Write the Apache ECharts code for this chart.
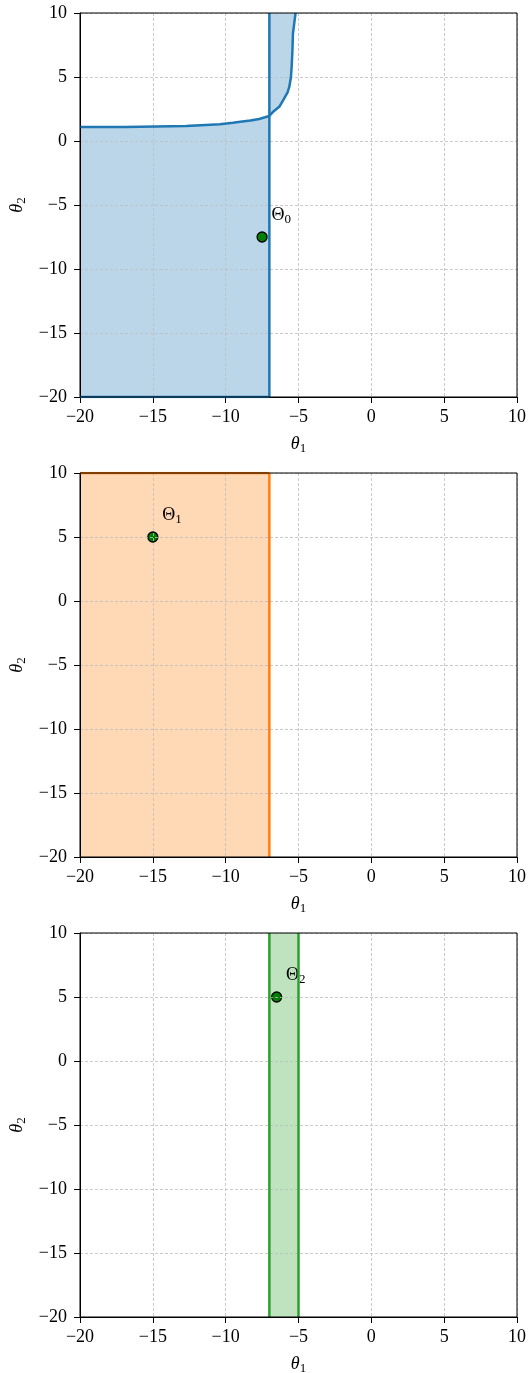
<!DOCTYPE html>
<html><head><meta charset="utf-8">
<script src="https://cdn.jsdelivr.net/npm/echarts@6/dist/echarts.min.js"></script>
<style>html,body{margin:0;padding:0;background:#fff}#c{width:529px;height:1373px}</style>
</head><body><div id="c"></div>
<script>
// ---- data ----
const THETA1_RANGE = [-20, 10];
const THETA2_RANGE = [-20, 10];
const TICK_STEP = 5;
// Region Θ0: lower boundary theta2(theta1) left of the cut
const r0LowerTh1 = [-20, -16.9, -16.8, -12.7, -12.6, -10.4, -10.3, -9.5, -9.0, -8.3, -7.7, -7.3, -7.0];
const r0LowerTh2 = [1.1, 1.1, 1.17, 1.17, 1.27, 1.3, 1.4, 1.42, 1.5, 1.6, 1.72, 1.85, 1.95];
// Region Θ0: right curve theta1(theta2) above the cut
const r0CurveTh2 = [1.95, 2.29, 2.7, 3.2, 3.8, 4.24, 5.0, 5.8, 7.0, 8.4, 9.3, 10];
const r0CurveTh1 = [-7.0, -6.74, -6.3, -6.05, -5.75, -5.63, -5.52, -5.47, -5.42, -5.38, -5.28, -5.2];
const r0Cut = -7;
const r1Theta1 = [-20, -7];
const r2Theta1 = [-7, -5];
const pointTheta1 = [-7.5, -15, -6.5];
const pointTheta2 = [-7.5, 5, 5];
const pointNames = ['0', '1', '2'];
const lineColors = ['#1f77b4', '#ff7f0e', '#2ca02c'];
const fillColors = ['rgba(31,119,180,0.3)', 'rgba(255,127,14,0.3)', 'rgba(44,160,44,0.3)'];

// ---- build ----
const zip = (a, b) => a.map((v, i) => [v, b[i]]);
const [x0, x1] = THETA1_RANGE, [y0, y1] = THETA2_RANGE;
const polys = [
  [
    [[x0, y0], ...zip(r0LowerTh1, r0LowerTh2), [r0Cut, y0]],
    [...zip(r0CurveTh1, r0CurveTh2), [r0Cut, y1]]
  ],
  [[[r1Theta1[0], y0], [r1Theta1[0], y1], [r1Theta1[1], y1], [r1Theta1[1], y0]]],
  [[[r2Theta1[0], y0], [r2Theta1[0], y1], [r2Theta1[1], y1], [r2Theta1[1], y0]]]
];
const lines = [
  [zip(r0LowerTh1, r0LowerTh2), zip(r0CurveTh1, r0CurveTh2), [[r0Cut, y0], [r0Cut, y1]], [[x0, y0], [r0Cut, y0]]],
  [[[r1Theta1[1], y0], [r1Theta1[1], y1]], [[r1Theta1[0], y1], [r1Theta1[1], y1]]],
  [[[r2Theta1[0], y0], [r2Theta1[0], y1]], [[r2Theta1[1], y0], [r2Theta1[1], y1]]]
];

const FONT = 'Liberation Serif';
const FS = 18;
const fmt = v => v < 0 ? '\u2212' + (-v) : String(v);
const rich = (italic) => ({
  i: {fontFamily: FONT, fontStyle: italic ? 'italic' : 'normal', fontSize: FS, color: '#000', verticalAlign: 'top', lineHeight: 20},
  s: {fontFamily: FONT, fontSize: 13, color: '#000', verticalAlign: 'bottom', lineHeight: 13, padding: [12, 0, 0, 0]}
});
const tops = [13, 473, 933];
const grids = [], xAxes = [], yAxes = [], series = [];
tops.forEach((t, gi) => {
  grids.push({left: 80, top: t, width: 437, height: 384, containLabel: false, outerBoundsMode: 'none',
    show: true, borderColor: '#000', borderWidth: 1, backgroundColor: 'transparent', z: 10});
  const common = {
    gridIndex: gi, type: 'value', interval: TICK_STEP, z: 5,
    axisLine: {show: true, onZero: false, lineStyle: {color: '#000', width: 1}},
    axisTick: {show: true, inside: false, length: 6, lineStyle: {color: '#000', width: 1}},
    splitLine: {show: true, lineStyle: {color: '#bdbdbd', width: 0.8, type: [3, 2]}},
    nameLocation: 'middle',
    nameTextStyle: {rich: rich(true)}
  };
  xAxes.push(Object.assign({}, common, {min: x0, max: x1, name: '{i|θ}{s|1}', nameGap: 38,
    axisLabel: {color: '#000', fontFamily: FONT, fontSize: FS, margin: 11, formatter: fmt}}));
  yAxes.push(Object.assign({}, common, {min: y0, max: y1, name: '{i|θ}{s|2}', nameGap: 52, nameRotate: 90,
    axisLabel: {color: '#000', fontFamily: FONT, fontSize: FS, margin: 13, formatter: fmt}}));
  const P = polys[gi];
  series.push({
    type: 'custom', xAxisIndex: gi, yAxisIndex: gi, clip: true, z: 1, silent: true,
    data: P.map(p => p[0]),
    renderItem: (params, api) => ({
      type: 'polygon',
      shape: {points: P[params.dataIndex].map(pt => api.coord(pt))},
      style: {fill: fillColors[gi], stroke: null}
    })
  });
  lines[gi].forEach(l => series.push({
    type: 'line', xAxisIndex: gi, yAxisIndex: gi, data: l, showSymbol: false, clip: true, z: 6, silent: true,
    lineStyle: {color: lineColors[gi], width: 2.5}
  }));
  series.push({
    type: 'scatter', xAxisIndex: gi, yAxisIndex: gi, z: 2, silent: true,
    data: [[pointTheta1[gi], pointTheta2[gi]]],
    symbolSize: 10,
    itemStyle: {color: '#008000', borderColor: '#000', borderWidth: 1.3, opacity: 1},
    label: {show: true, position: [15, -25], formatter: '{i|Θ}{s|' + pointNames[gi] + '}', rich: rich(false)}
  });
});
const chart = echarts.init(document.getElementById('c'), null, {renderer: 'canvas'});
chart.setOption({animation: false, grid: grids, xAxis: xAxes, yAxis: yAxes, series});
</script></body></html>
